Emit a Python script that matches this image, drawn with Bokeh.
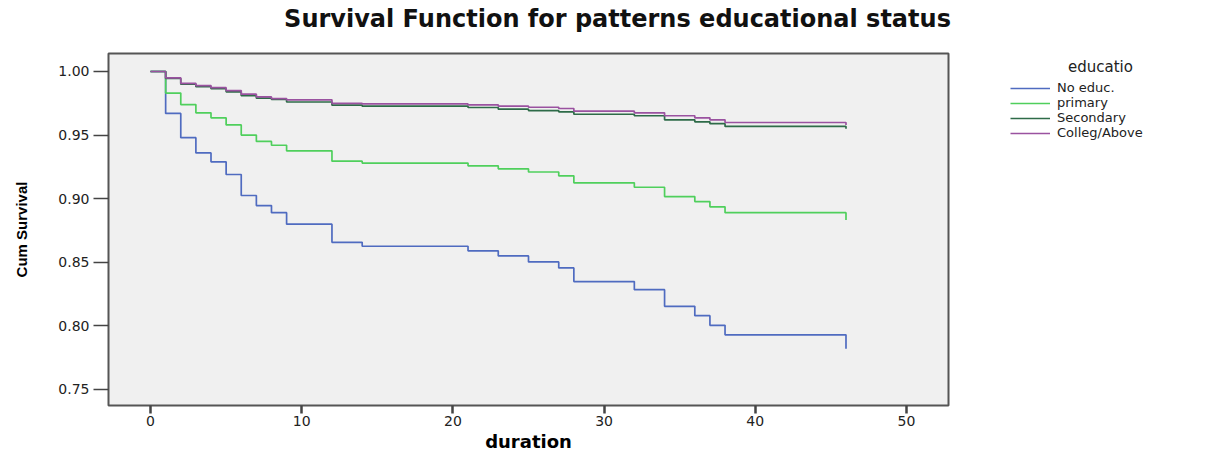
from bokeh.plotting import figure
from bokeh.layouts import row, column
from bokeh.models import FixedTicker, PrintfTickFormatter, Legend, LegendItem, Label, Range1d
from bokeh.embed import file_html
from bokeh.resources import INLINE

# ---- data ----
times = [0, 1, 2, 3, 4, 5, 6, 7, 8, 9, 12, 14, 21, 23, 25, 27, 28, 32, 34, 36, 37, 38]
end_time = 46

no_educ = [1.0, 0.967, 0.948, 0.936, 0.929, 0.919, 0.9025, 0.8946, 0.889, 0.880, 0.8657,
           0.8626, 0.859, 0.855, 0.8503, 0.8456, 0.8348, 0.8285, 0.8154, 0.808, 0.8004, 0.793]
no_educ_end = 0.782

primary = [1.0, 0.983, 0.974, 0.9675, 0.9636, 0.958, 0.950, 0.945, 0.942, 0.9376, 0.9295,
           0.928, 0.9258, 0.9235, 0.921, 0.918, 0.9125, 0.909, 0.9017, 0.8977, 0.8936, 0.889]
primary_end = 0.8833

secondary = [1.0, 0.9945, 0.990, 0.988, 0.9865, 0.984, 0.981, 0.979, 0.978, 0.976, 0.9735,
             0.9727, 0.9717, 0.9704, 0.9693, 0.9683, 0.9664, 0.9652, 0.962, 0.9604, 0.959, 0.9568]
secondary_end = 0.9549

colleg = [1.0, 0.995, 0.9907, 0.9889, 0.9873, 0.985, 0.9822, 0.980, 0.9787, 0.9777, 0.975,
          0.9745, 0.9738, 0.9727, 0.9719, 0.9709, 0.9688, 0.9675, 0.9652, 0.9636, 0.962, 0.9599]
colleg_end = 0.958

labels = ["No educ.", "primary", "Secondary", "Colleg/Above"]
colors = ["#4f6bc0", "#4fcf5c", "#2e6b48", "#9a52a0"]
x_ticks = [0, 10, 20, 30, 40, 50]
y_ticks = [0.75, 0.80, 0.85, 0.90, 0.95, 1.00]
title_text = "Survival Function for patterns educational status"
legend_title = "educatio"

# ---------------- title strip ----------------
t = figure(width=1205, height=51, x_range=(0, 1205), y_range=(0, 51),
           output_backend="svg", toolbar_location=None, title=None,
           x_axis_location=None, y_axis_location=None, min_border=0,
           background_fill_color="white", border_fill_color="white")
t.outline_line_color = None
t.grid.visible = False
t.add_layout(Label(x=617, y=33, text=title_text, text_align="center", text_baseline="middle",
                   text_font="DejaVu Sans", text_font_style="bold", text_font_size="24px",
                   text_color="#111111"))

# ---------------- main chart ----------------
p = figure(width=960, height=404, x_range=(-2.78, 52.78), y_range=(0.7374, 1.01415),
           output_backend="svg", toolbar_location=None, title=None,
           min_border_left=108, min_border_right=12, min_border_top=2, min_border_bottom=50,
           background_fill_color="#f0f0f0", border_fill_color="white")
p.outline_line_color = "#555555"
p.outline_line_width = 2
p.grid.visible = False

series = [(no_educ, no_educ_end), (primary, primary_end), (secondary, secondary_end), (colleg, colleg_end)]
for (vals, endv), col in zip(series, colors):
    xs = times + [end_time, end_time]
    ys = vals + [vals[-1], endv]
    p.step(xs, ys, mode="after", line_color=col, line_width=1.7)

xa = p.below[0]
ya = p.left[0]
xa.ticker = FixedTicker(ticks=x_ticks)
ya.ticker = FixedTicker(ticks=y_ticks)
ya.formatter = PrintfTickFormatter(format="%.2f")
for ax in (xa, ya):
    ax.axis_line_color = None
    ax.minor_tick_line_color = None
    ax.major_tick_in = 0
    ax.major_tick_line_color = "#444444"
    ax.major_label_text_font = "DejaVu Sans"
    ax.major_label_text_font_size = "14px"
    ax.major_label_text_color = "#222222"
    ax.axis_label_text_color = "#000000"
    ax.axis_label_text_font_style = "bold"

xa.major_tick_out = 8
xa.major_tick_line_width = 2.5
xa.major_label_standoff = 2
xa.axis_label = "duration"
xa.axis_label_text_font = "DejaVu Sans"
xa.axis_label_text_font_size = "18px"
xa.axis_label_standoff = 2

ya.major_tick_out = 15
ya.major_tick_line_width = 1.5
ya.major_label_standoff = 4
ya.axis_label = "Cum Survival"
ya.axis_label_text_font = "Liberation Sans"
ya.axis_label_text_font_size = "15px"
ya.axis_label_standoff = 25

# ---------------- legend panel (right) ----------------
q = figure(width=245, height=404, x_range=(0, 245), y_range=(0, 404),
           output_backend="svg", toolbar_location=None, title=None,
           x_axis_location=None, y_axis_location=None, min_border=0,
           background_fill_color="white", border_fill_color="white")
q.outline_line_color = None
q.grid.visible = False
q.extra_x_ranges = {"hidden": Range1d(1000, 1001)}

leg_renderers = []
for (vals, endv), col in zip(series, colors):
    leg_renderers.append(q.step(times, vals, mode="after", line_color=col, line_width=1.7,
                                x_range_name="hidden"))

items = [LegendItem(label=lab, renderers=[r]) for lab, r in zip(labels, leg_renderers)]
legend = Legend(items=items, location=(50, 404 - 85 - 4 * 13.5), orientation="vertical",
                border_line_color=None, background_fill_alpha=0,
                glyph_width=40, glyph_height=12, label_height=12, spacing=0,
                padding=0, margin=0, label_standoff=7,
                label_text_font="DejaVu Sans", label_text_font_size="13px",
                label_text_line_height=0.9,
                label_text_color="#222222")
q.add_layout(legend)
q.add_layout(Label(x=140, y=404 - 16, text=legend_title, text_align="center",
                   text_baseline="middle", text_font="DejaVu Sans", text_font_size="15px",
                   text_color="#222222"))

layout = column(t, row(p, q, spacing=0), spacing=0)
open("out.html", "w").write(file_html(layout, INLINE))
